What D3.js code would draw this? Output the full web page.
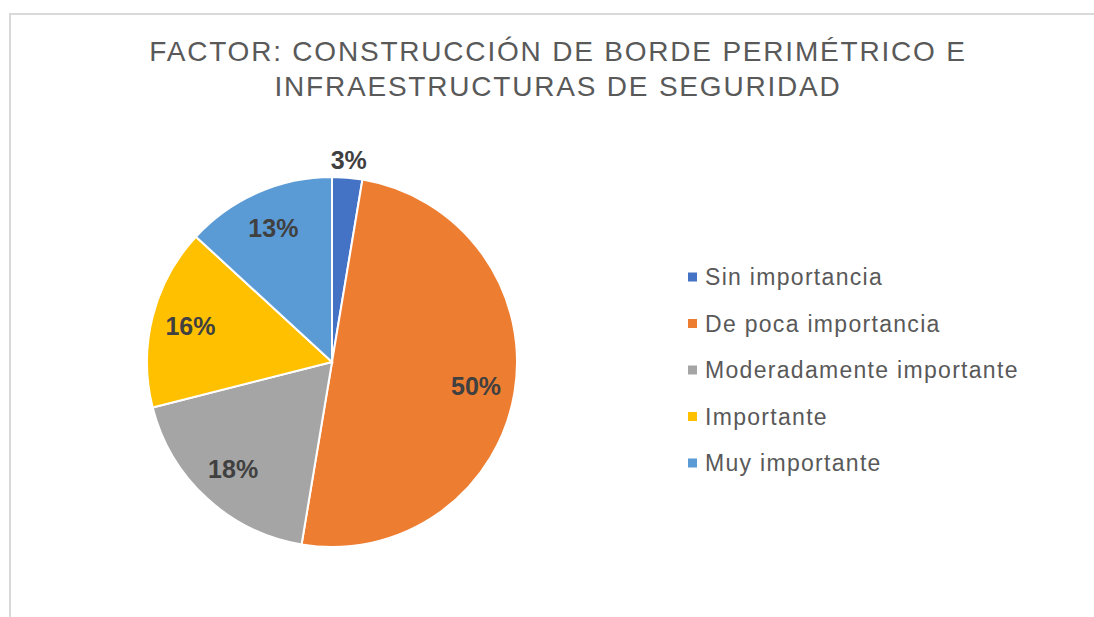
<!DOCTYPE html>
<html>
<head>
<meta charset="utf-8">
<script src="https://cdn.jsdelivr.net/npm/d3@7"></script>
<style>
    body { margin: 0; background: #fff; }
    svg { display: block; font-family: "Liberation Sans", Arial, sans-serif; }
</style>
</head>
<body>
<div id="chart"></div>
<script>
const width = 1094,
    height = 617;

// counts per answer (n = 38)
const categories = ["Sin importancia", "De poca importancia", "Moderadamente importante", "Importante", "Muy importante"];
const counts = [1, 19, 7, 6, 5];
const colors = ["#4472c4", "#ed7d31", "#a5a5a5", "#ffc000", "#5b9bd5"];
const titleLines = ["FACTOR: CONSTRUCCIÓN DE BORDE PERIMÉTRICO E", "INFRAESTRUCTURAS DE SEGURIDAD"];

const svg = d3.select("#chart").append("svg")
    .attr("width", width)
    .attr("height", height);

// chart frame
svg.append("path")
    .attr("d", "M10," + height + "V14H" + width)
    .attr("fill", "none")
    .attr("stroke", "#d9d9d9")
    .attr("stroke-width", 2);

svg.append("g")
    .selectAll("text")
    .data(titleLines)
    .enter().append("text")
    .attr("x", 558)
    .attr("y", function(d, i) { return 61 + i * 35; })
    .attr("text-anchor", "middle")
    .attr("fill", "#595959")
    .style("font-size", "28px")
    .style("letter-spacing", "1.8px")
    .text(function(d) { return d; });

const cx = 332, cy = 362, r = 185;
const total = d3.sum(counts);

const pie = d3.pie().sort(null).value(function(d) { return d; });
const arcs = pie(counts);
const arc = d3.arc().innerRadius(0).outerRadius(r);

const g = svg.append("g").attr("transform", "translate(" + cx + "," + cy + ")");

g.selectAll("path")
    .data(arcs)
    .enter().append("path")
    .attr("d", arc)
    .attr("fill", function(d, i) { return colors[i]; })
    .attr("stroke", "#fff")
    .attr("stroke-width", 2);

// small slice gets its label outside
function labelPos(d) {
    const a = (d.startAngle + d.endAngle) / 2;
    const rr = (d.endAngle - d.startAngle) < 0.3 ? 203 : 146;
    return [Math.sin(a) * rr, -Math.cos(a) * rr];
}

g.selectAll("text")
    .data(arcs)
    .enter().append("text")
    .attr("x", function(d) { return labelPos(d)[0]; })
    .attr("y", function(d) { return labelPos(d)[1]; })
    .attr("dy", "0.36em")
    .attr("text-anchor", "middle")
    .attr("fill", "#404040")
    .style("font-size", "25px")
    .style("font-weight", "bold")
    .text(function(d) { return Math.round(d.value / total * 100) + "%"; });

const legend = svg.append("g")
    .selectAll("g")
    .data(categories)
    .enter().append("g")
    .attr("transform", function(d, i) { return "translate(688," + (277 + i * 46.5) + ")"; });

legend.append("rect")
    .attr("x", 0)
    .attr("y", -4.5)
    .attr("width", 9)
    .attr("height", 9)
    .attr("fill", function(d, i) { return colors[i]; });

legend.append("text")
    .attr("x", 17)
    .attr("dy", "0.36em")
    .attr("fill", "#595959")
    .style("font-size", "23px")
    .style("letter-spacing", "1.3px")
    .text(function(d) { return d; });
</script>
</body>
</html>
